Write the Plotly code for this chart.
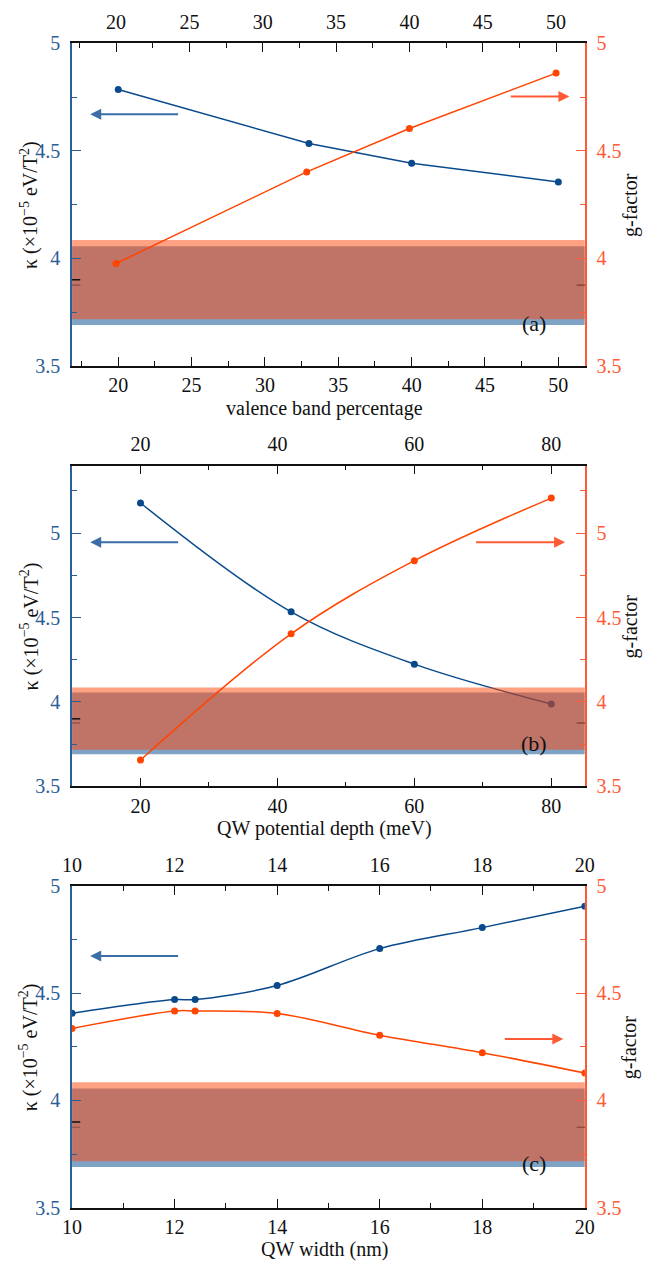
import plotly.graph_objects as go

W, H = 653, 1270

# ---------------- data ----------------
# (a) valence band percentage
vb_pct = [20, 33, 40, 50]
kappa_a = [4.786, 4.534, 4.442, 4.355]
g_a = [3.976, 4.402, 4.604, 4.862]

# (b) QW potential depth (meV)
depth_meV = [20, 42, 60, 80]
kappa_b = [5.179, 4.534, 4.224, 3.988]
g_b = [3.656, 4.404, 4.837, 5.208]

# (c) QW width (nm)
width_nm = [10, 12, 12.4, 14, 16, 18, 20]
kappa_c = [4.407, 4.471, 4.471, 4.537, 4.709, 4.807, 4.907]
g_c = [4.336, 4.418, 4.418, 4.406, 4.305, 4.223, 4.128]

# experimental bands
kappa_exp = [3.69, 4.056]
g_exp = [3.716, 4.085]

# ---------------- style ----------------
BLUE = "#0a4a8c"
RED = "#ff4500"
AXBLUE = "#2b5d97"
AXRED = "#ff5a36"
ARBLUE = "#3b6ea6"
ARRED = "#ff5a36"
FONT = "'Liberation Serif', 'Times New Roman', Times, 'DejaVu Serif', serif"
XL, XR = 64, 593

def pxx(x):
    return x / W

def pxy(y):
    return 1 - y / H

panels = [
    dict(x=vb_pct, k=kappa_a, g=g_a, xb=[16.85, 51.806], xt=[17.0, 51.96], yr=[3.5, 5.0],
         dt=5, mdt=2.5, shape="linear", top=33, bot=361, xtitle="valence band percentage",
         tag="(a)", barr=(0.0354, 0.2098, 0.78), rarr=(0.8526, 0.970, 0.835), tagpos=(0.90, 0.131)),
    dict(x=depth_meV, k=kappa_b, g=g_b, xb=[10.0, 84.9], xt=[10.0, 84.9], yr=[3.5, 5.4],
         dt=20, mdt=10, shape="spline", top=462.7, bot=789, xtitle="QW potential depth (meV)",
         tag="(b)", barr=(0.0354, 0.2098, 0.761), rarr=(0.785, 0.9616, 0.761), tagpos=(0.90, 0.135)),
    dict(x=width_nm, k=kappa_c, g=g_c, xb=[10, 20], xt=[10, 20], yr=[3.5, 5.0],
         dt=2, mdt=1, shape="spline", top=890.7, bot=1217.7, xtitle="QW width (nm)",
         tag="(c)", barr=(0.0354, 0.2098, 0.783), rarr=(0.841, 0.958, 0.525), tagpos=(0.90, 0.137)),
]

fig = go.Figure()
layout = dict(
    width=W, height=H, autosize=False,
    margin=dict(l=0, r=0, t=0, b=0),
    paper_bgcolor="white", plot_bgcolor="white",
    showlegend=False,
    font=dict(family=FONT, size=20, color="#111"),
)
annotations = []
shapes = []

for i, p in enumerate(panels):
    nb = 2 * i + 1
    nt = 2 * i + 2
    xb = "x" if nb == 1 else f"x{nb}"
    yb = "y" if nb == 1 else f"y{nb}"
    xt = f"x{nt}"
    yt = f"y{nt}"
    xbk = "xaxis" if nb == 1 else f"xaxis{nb}"
    ybk = "yaxis" if nb == 1 else f"yaxis{nb}"
    xtk = f"xaxis{nt}"
    ytk = f"yaxis{nt}"
    dom_x = [pxx(XL), pxx(XR)]
    dom_y = [pxy(p["bot"]), pxy(p["top"])]

    common_x = dict(domain=dom_x, showgrid=False, zeroline=False, showline=True,
                    linecolor="#111", linewidth=1.5, ticks="inside", ticklen=9,
                    tickwidth=1.2, tickcolor="#111", dtick=p["dt"], tick0=0,
                    tickfont=dict(family=FONT, size=20, color="#111"),
                    minor=dict(dtick=p["mdt"], tick0=0, ticks="inside", ticklen=5,
                               tickwidth=1.2, tickcolor="#111", showgrid=False))
    layout[xbk] = dict(common_x, range=p["xb"], anchor=yb, side="bottom", ticklabelstandoff=1)
    layout[xtk] = dict(common_x, range=p["xt"], anchor=yb, side="top", overlaying=xb,
                       ticklabelstandoff=5)

    common_y = dict(domain=dom_y, range=p["yr"], showgrid=False, zeroline=False,
                    showline=True, linewidth=1.5, ticks="inside", ticklen=9,
                    tickwidth=1.2, dtick=0.5, tick0=0, ticklabelstandoff=6)
    layout[ybk] = dict(common_y, anchor=xb, side="left", linecolor=AXBLUE, tickcolor=AXBLUE,
                       tickfont=dict(family=FONT, size=20, color=AXBLUE),
                       minor=dict(dtick=0.25, tick0=0, ticks="inside", ticklen=5,
                                  tickwidth=1.2, tickcolor=AXBLUE, showgrid=False))
    layout[ytk] = dict(common_y, anchor=xb, side="right", overlaying=yb, linecolor=AXRED,
                       tickcolor=AXRED, tickfont=dict(family=FONT, size=20, color=AXRED),
                       minor=dict(dtick=0.25, tick0=0, ticks="inside", ticklen=5,
                                  tickwidth=1.2, tickcolor=AXRED, showgrid=False))

    # blue curve (kappa) on bottom/left axes
    fig.add_trace(go.Scatter(x=p["x"], y=p["k"], xaxis=xb, yaxis=yb, mode="lines+markers",
                             line=dict(color=BLUE, width=1.5, shape=p["shape"]),
                             marker=dict(color=BLUE, size=7), hoverinfo="skip"))
    # blue experimental band
    x0, x1 = p["xb"]
    fig.add_trace(go.Scatter(x=[x0, x1, x1, x0, x0],
                             y=[kappa_exp[0], kappa_exp[0], kappa_exp[1], kappa_exp[1], kappa_exp[0]],
                             xaxis=xb, yaxis=yb, mode="none", fill="toself",
                             fillcolor="rgba(0,72,140,0.5)", hoverinfo="skip"))
    # red experimental band on top/right axes
    x0, x1 = p["xt"]
    fig.add_trace(go.Scatter(x=[x0, x1, x1, x0, x0],
                             y=[g_exp[0], g_exp[0], g_exp[1], g_exp[1], g_exp[0]],
                             xaxis=xt, yaxis=yt, mode="none", fill="toself",
                             fillcolor="rgba(255,69,10,0.5)", hoverinfo="skip"))
    # red curve (g-factor)
    fig.add_trace(go.Scatter(x=p["x"], y=p["g"], xaxis=xt, yaxis=yt, mode="lines+markers",
                             line=dict(color=RED, width=1.5, shape=p["shape"]),
                             marker=dict(color=RED, size=7), hoverinfo="skip"))

    # stray short ticks around 3.9
    shapes.append(dict(type="line", xref=f"{xb} domain", yref=yb, x0=0, x1=0.016,
                       y0=3.9, y1=3.9, line=dict(color="#111", width=1.5), layer="above"))
    shapes.append(dict(type="line", xref=f"{xb} domain", yref=yb, x0=0, x1=0.016,
                       y0=3.875, y1=3.875, line=dict(color=AXBLUE, width=1.2), layer="below"))
    shapes.append(dict(type="line", xref=f"{xb} domain", yref=yb, x0=0.984, x1=1,
                       y0=3.875, y1=3.875, line=dict(color="#111", width=1.2), layer="below"))

    # arrows
    bh, bt, by = p["barr"]
    annotations.append(dict(xref=f"{xb} domain", yref=f"{yb} domain", axref=f"{xb} domain",
                            ayref=f"{yb} domain", x=bh, y=by, ax=bt, ay=by, text="",
                            showarrow=True, arrowhead=2, arrowsize=1.1, arrowwidth=2,
                            arrowcolor=ARBLUE))
    rt, rh, ry = p["rarr"]
    annotations.append(dict(xref=f"{xb} domain", yref=f"{yb} domain", axref=f"{xb} domain",
                            ayref=f"{yb} domain", x=rh, y=ry, ax=rt, ay=ry, text="",
                            showarrow=True, arrowhead=2, arrowsize=1.1, arrowwidth=2,
                            arrowcolor=ARRED))
    # panel tag
    tx, ty = p["tagpos"]
    annotations.append(dict(xref=f"{xb} domain", yref=f"{yb} domain", x=tx, y=ty,
                            text=p["tag"], showarrow=False, xanchor="center", yanchor="middle",
                            font=dict(family=FONT, size=22, color="#111")))
    # axis titles
    cy = (p["top"] + p["bot"]) / 2
    annotations.append(dict(xref="paper", yref="paper", x=pxx(20), y=pxy(cy),
                            text="κ (×10<sup>−5</sup> eV/T<sup>2</sup>)", textangle=-90,
                            showarrow=False, xanchor="center", yanchor="middle",
                            font=dict(family=FONT, size=20, color="#111")))
    annotations.append(dict(xref="paper", yref="paper", x=pxx(640), y=pxy(cy),
                            text="g-factor", textangle=-90,
                            showarrow=False, xanchor="center", yanchor="middle",
                            font=dict(family=FONT, size=20, color="#111")))
    annotations.append(dict(xref="paper", yref="paper", x=pxx(324), y=pxy(p["bot"] + 43),
                            text=p["xtitle"], showarrow=False, xanchor="center",
                            yanchor="middle", font=dict(family=FONT, size=20, color="#111")))

layout["annotations"] = annotations
layout["shapes"] = shapes
fig.update_layout(**layout)

fig.write_html("out.html", config={"displayModeBar": False},
               post_script="document.body.style.margin='0';document.body.style.overflow='hidden';")
